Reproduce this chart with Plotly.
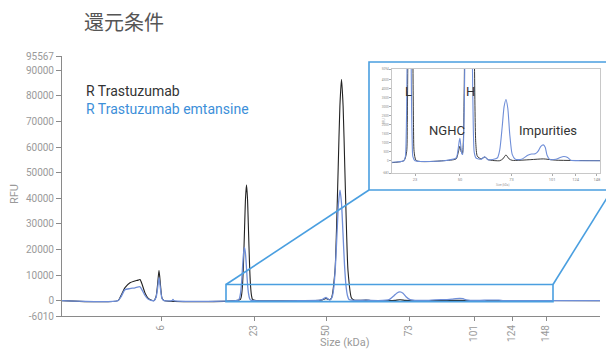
import plotly.graph_objects as go

# ---------------- data (migration time in s, RFU) ----------------
size_tick_labels = ["6", "23", "50", "73", "101", "124", "148"]
size_tick_times = [19.9, 29.2, 36.4, 44.7, 51.2, 55.0, 58.4]

t_trastuzumab = [10.0, 15.6, 15.9, 16.3, 16.8, 17.2, 17.6, 17.8, 18.0, 18.3, 18.6, 18.9, 19.2,
                 19.4, 19.55, 19.7, 19.85, 20.0, 20.2,
                 27.4, 27.85, 27.95, 28.05, 28.15, 28.25, 28.35, 28.45, 28.55, 28.65, 28.75,
                 28.85, 28.95, 29.05, 29.4,
                 33.8, 35.8, 36.1, 36.4, 36.6, 36.8, 36.95, 37.3, 37.45, 37.62, 37.79, 37.95,
                 38.11, 38.28, 38.45, 38.6, 38.95, 39.2, 39.8, 40.4, 41.0,
                 42.8, 43.3, 43.8, 44.3, 44.8, 47.8, 49.8, 51.8, 63.8]
rfu_trastuzumab = [0, 0, 2000, 5100, 7000, 7600, 8000, 8250, 6500, 3000, 1000, 200, 0,
                   1500, 6000, 11800, 6000, 1000, 0,
                   0, 500, 2000, 6100, 14700, 27400, 39800, 45200, 39800, 27400, 14700,
                   6100, 2000, 500, 0,
                   0, 100, 400, 800, 500, 400, 1000, 11700, 27700, 52000, 76000, 86500,
                   76000, 52000, 27700, 11700, 1000, 250, 100, 200, 50,
                   0, 100, 320, 100, 20, 60, 100, 30, 0]

t_emtansine = [10.0, 15.6, 15.9, 16.3, 16.8, 17.3, 17.8, 18.0, 18.3, 18.6, 18.9, 19.2,
               19.4, 19.55, 19.7, 19.85, 20.0, 20.2, 21.0, 21.1, 21.2,
               27.4, 27.65, 27.75, 27.85, 27.95, 28.05, 28.15, 28.25, 28.35, 28.45, 28.55,
               28.65, 28.75, 28.85, 29.2,
               33.8, 35.8, 36.1, 36.3, 36.4, 36.5, 36.7, 36.85, 37.05, 37.2, 37.35, 37.5,
               37.65, 37.8, 37.95, 38.1, 38.25, 38.4, 38.55, 38.7, 39.0, 39.8, 40.4, 40.9,
               42.4, 42.8, 43.2, 43.5, 43.8, 44.1, 44.4, 44.8, 45.3,
               46.3, 47.3, 47.9, 48.5, 49.0, 49.4, 49.8, 50.1, 50.4, 50.8, 51.8,
               52.5, 53.1, 53.7, 54.2, 55.8, 63.8]
rfu_emtansine = [0, 0, 1500, 4300, 4700, 5000, 5400, 4200, 2000, 600, 100, 0,
                 1200, 4500, 9000, 4500, 800, 0, 0, 500, 0,
                 0, 230, 900, 2800, 6700, 12700, 18300, 20800, 18300, 12700, 6700,
                 2800, 900, 230, 0,
                 0, 150, 600, 1100, 1250, 1000, 400, 350, 1900, 5800, 14000, 26200,
                 38000, 43200, 38000, 26200, 14000, 5800, 1900, 480, 150, 80, 220, 50,
                 150, 600, 1900, 3000, 3400, 2900, 1500, 350, 80,
                 80, 300, 370, 380, 550, 800, 880, 750, 300, 80, 80,
                 180, 230, 180, 30, 0, 0]

series_names = ["R Trastuzumab", "R Trastuzumab emtansine"]

main_x_range = [10.0, 63.8]
main_y_range = [-6010, 95567]
main_y_ticks = [-6010, 0, 10000, 20000, 30000, 40000, 50000, 60000, 70000, 80000, 90000, 95567]

inset_x_range = [25.5, 58.9]
inset_y_range = [-683, 5094]
inset_y_ticks = [-683, 0, 500, 1000, 1500, 2000, 2500, 3000, 3500, 4000, 4500, 5094]
zoom_box_x = [26.4, 59.1]
zoom_box_y = [-400, 6300]

# ---------------- layout geometry ----------------
W, H = 606, 349
ML, MR, MT, MB = 62, 6, 56, 33
PW, PH = W - ML - MR, H - MT - MB


def px(x):
    return (x - ML) / PW


def py(y):
    return (H - MB - y) / PH


BLACK = "#222222"
BLUE = "#6f8ed8"
FRAME = "#4a9fe0"
GREY = "#9a9a9a"

fig = go.Figure()
for xa, ya, w in (("x", "y", 1.1), ("x2", "y2", 0.9)):
    fig.add_trace(go.Scatter(x=t_trastuzumab, y=rfu_trastuzumab, mode="lines",
                             line=dict(color=BLACK, width=w, shape="spline", smoothing=0.6),
                             xaxis=xa, yaxis=ya, showlegend=False, hoverinfo="skip",
                             name=series_names[0]))
    fig.add_trace(go.Scatter(x=t_emtansine, y=rfu_emtansine, mode="lines",
                             line=dict(color=BLUE, width=w + 0.2, shape="spline", smoothing=0.6),
                             xaxis=xa, yaxis=ya, showlegend=False, hoverinfo="skip",
                             name=series_names[1]))

axis_common = dict(showgrid=False, zeroline=False, showline=True, linecolor="#8a8a8a",
                   linewidth=1, ticks="outside", tickcolor="#8a8a8a", automargin=False)

fig.update_layout(
    width=W, height=H, margin=dict(l=ML, r=MR, t=MT, b=MB, autoexpand=False),
    paper_bgcolor="white", plot_bgcolor="white",
    font=dict(family="Roboto", color=GREY),
    xaxis=dict(range=main_x_range, tickvals=size_tick_times, ticktext=size_tick_labels,
               tickangle=-90, ticklen=4, tickfont=dict(size=10, color=GREY),
               domain=[0, 1], **axis_common),
    yaxis=dict(range=main_y_range, tickvals=main_y_ticks,
               ticktext=[str(v) for v in main_y_ticks], ticklen=5,
               tickfont=dict(size=10, color=GREY), domain=[0, 1], **axis_common),
    xaxis2=dict(range=inset_x_range, tickvals=size_tick_times[1:],
                ticktext=size_tick_labels[1:], anchor="y2", automargin=False,
                domain=[px(392), px(600)], showgrid=False, zeroline=False, showline=True,
                mirror=True, linecolor="#c8c8c8", linewidth=0.6, ticks="outside",
                ticklen=2, tickcolor="#aaa", tickfont=dict(size=4, color="#888")),
    yaxis2=dict(range=inset_y_range, tickvals=inset_y_ticks, automargin=False,
                ticktext=[str(v) for v in inset_y_ticks], anchor="x2",
                domain=[py(173), py(69)], showgrid=False, zeroline=False, showline=True,
                mirror=True, linecolor="#c8c8c8", linewidth=0.6, ticks="outside",
                ticklen=2, tickcolor="#aaa", tickfont=dict(size=3, color="#888")),
)

# zoom rectangle on the main chart, inset frame and connectors
def dx(t):
    return (t - main_x_range[0]) / (main_x_range[1] - main_x_range[0])


def dy(v):
    return (v - main_y_range[0]) / (main_y_range[1] - main_y_range[0])


frame_x = [px(369), px(612)]
frame_y = [py(190), py(62)]
line_style = dict(color=FRAME, width=1.6)
fig.add_shape(type="rect", xref="paper", yref="paper",
              x0=dx(zoom_box_x[0]), x1=dx(zoom_box_x[1]),
              y0=dy(zoom_box_y[0]), y1=dy(zoom_box_y[1]), line=line_style)
fig.add_shape(type="rect", xref="paper", yref="paper",
              x0=frame_x[0], x1=frame_x[1], y0=frame_y[0], y1=frame_y[1], line=line_style)
fig.add_shape(type="line", xref="paper", yref="paper",
              x0=dx(zoom_box_x[0]), y0=dy(zoom_box_y[1]), x1=frame_x[0], y1=frame_y[0],
              line=line_style)
fig.add_shape(type="line", xref="paper", yref="paper",
              x0=dx(zoom_box_x[1]), y0=dy(zoom_box_y[1]), x1=frame_x[1], y1=frame_y[0],
              line=line_style)

def note(text, x, y, size, color, anchor="center", angle=0, family="Roboto"):
    fig.add_annotation(text=text, xref="paper", yref="paper", x=px(x), y=py(y),
                       xanchor=anchor, yanchor="middle", showarrow=False, textangle=angle,
                       font=dict(size=size, color=color, family=family))

note("還元条件", 82, 21, 20, "#555555", anchor="left", family="Noto Sans CJK JP")
note(series_names[0], 84, 91, 14, "#333333", anchor="left")
note(series_names[1], 84, 109, 14, "#3d8fd9", anchor="left")
note("RFU", 14, 194, 11, GREY, angle=-90)
note("Size (kDa)", 345, 342, 11, GREY)
note("L", 408, 92, 13, "#333333")
note("H", 470, 91, 13, "#333333")
note("NGHC", 447, 130, 13, "#333333")
note("Impurities", 548, 130, 13, "#333333")
note("Size (kDa)", 503, 185, 3, "#999999")
note("RFU", 384, 121, 3, "#999999", angle=-90)

fig.write_html(
    "out.html",
    config={"displayModeBar": False},
    post_script="document.body.style.margin='0';document.body.style.overflow='hidden';",
)
